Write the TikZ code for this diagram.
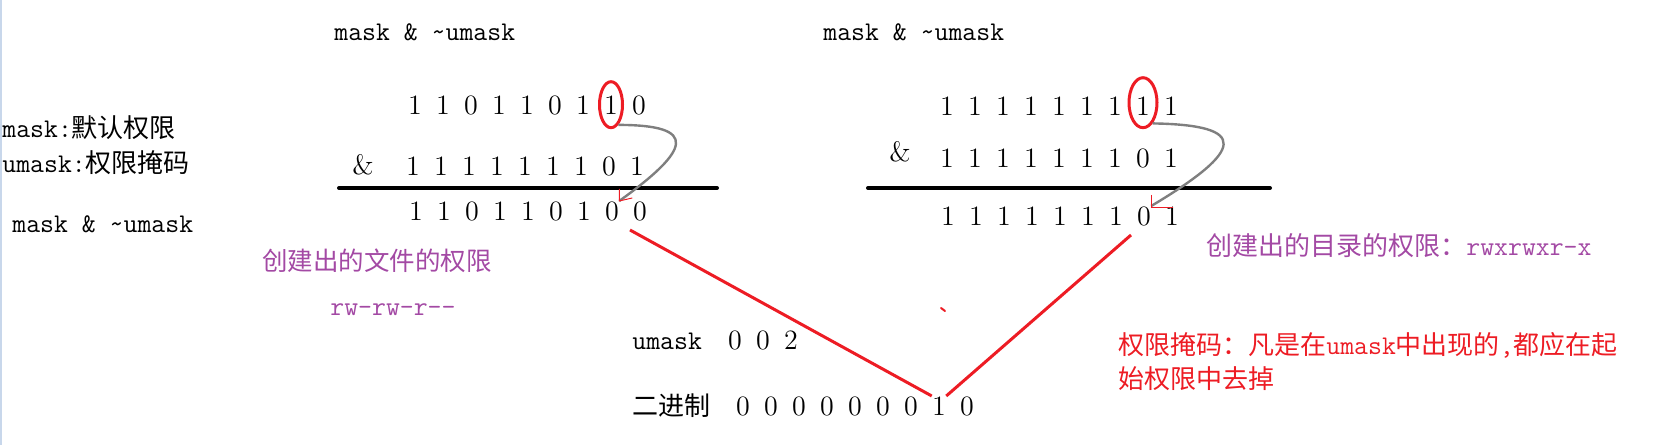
\documentclass[tikz,border=0pt]{standalone}
\usepackage{fontspec}
\usepackage{tikz}
\usetikzlibrary{shapes.geometric}
\newfontfamily\cjk{Noto Sans CJK SC}
\newcommand\zh[1]{{\fontsize{13}{15}\selectfont\cjk #1}}
\newcommand\en[1]{{\fontsize{13.5}{15}\selectfont\ttfamily #1}}
\definecolor{paintred}{RGB}{237,28,36}
\definecolor{paintpurple}{RGB}{163,73,164}
\definecolor{paintgray}{RGB}{127,127,127}
\definecolor{edgeblue}{RGB}{200,215,235}

\begin{document}
\begin{tikzpicture}[x=0.5pt, y=0.5pt,
    digit/.style={anchor=base, inner sep=0pt, font=\fontsize{14}{16}\selectfont},
    mono/.style={anchor=base west, inner sep=0pt, font=\fontsize{13.5}{15}\selectfont\ttfamily},
    cjktext/.style={anchor=base west, inner sep=0pt, font=\fontsize{13}{17}\selectfont\cjk},
    note/.style={cjktext, text=paintpurple},
    warn/.style={cjktext, text=paintred, align=left},
    ring/.style={draw=paintred, line width=1.5pt, ellipse, inner sep=0pt},
    rule/.style={line width=2pt, line cap=round},
    link/.style={draw=paintgray, line width=1.2pt},
    tick/.style={draw=paintred, line width=0.5pt},
    pointer/.style={draw=paintred, line width=1.5pt}]

    \useasboundingbox (0,0) rectangle (1662,-445);
    \fill[edgeblue] (0,0) rectangle (2,-445);

    \node[mono] (defmask) at (2,-137) {mask:\zh{默认权限}};
    \node[mono] (defumask) at (2,-172) {umask:\zh{权限掩码}};
    \node[mono] (formula) at (12,-232) {mask \& \textasciitilde umask};

    \node[mono] (fileop) at (334,-40) {mask \& \textasciitilde umask};
    \foreach \d [count=\i] in {1,1,0,1,1,0,1,1,0}
        \node[digit] (fileA\i) at ({415+28*(\i-1)},-114) {\d};
    \node[digit] (fileand) at (363,-174) {\&};
    \foreach \d [count=\i] in {1,1,1,1,1,1,1,0,1}
        \node[digit] (fileB\i) at ({413+28*(\i-1)},-175) {\d};
    \draw[rule] (339,-188) -- (717,-188);
    \foreach \d [count=\i] in {1,1,0,1,1,0,1,0,0}
        \node[digit] (fileC\i) at ({416+28*(\i-1)},-220) {\d};

    \node[mono] (dirop) at (823,-40) {mask \& \textasciitilde umask};
    \foreach \d [count=\i] in {1,1,1,1,1,1,1,1,1}
        \node[digit] (dirA\i) at ({947+28*(\i-1)},-115) {\d};
    \node[digit] (dirand) at (900,-161) {\&};
    \foreach \d [count=\i] in {1,1,1,1,1,1,1,0,1}
        \node[digit] (dirB\i) at ({947+28*(\i-1)},-167) {\d};
    \draw[rule] (868,-188) -- (1270,-188);
    \foreach \d [count=\i] in {1,1,1,1,1,1,1,0,1}
        \node[digit] (dirC\i) at ({948+28*(\i-1)},-225) {\d};

    \node[ring, minimum width=11.5pt, minimum height=23pt] (ringL) at (fileA8.center) {};
    \node[ring, minimum width=14pt, minimum height=25pt] (ringR) at ([yshift=1.5pt]dirA8.center) {};

    \draw[link] (ringL.-70) .. controls (700,-125) and (690,-150) .. (fileC8.north east);
    \draw[tick] (fileC8.north east) ++(0,12) -- ++(0,-12) -- ++(13,3);
    \draw[link] (ringR.-65) .. controls (1250,-125) and (1245,-150) .. (dirC8.north east);
    \draw[tick] (dirC8.north east) ++(0,11) -- ++(0,-13) -- ++(22,0);

    \node[note, font=\fontsize{12.75}{15}\selectfont\cjk] (fileperm) at (262,-270) {创建出的文件的权限};
    \node[mono, text=paintpurple] (filebits) at (330,-315) {rw-rw-r-{}-};
    \node[note] (dirperm) at (1206,-255) {创建出的目录的权限：\en{rwxrwxr-x}};
    \node[warn] (maskrule) at (1118,-388) {权限掩码：凡是在\en{umask}中出现的\en{,}都应在起\\始权限中去掉};

    \node[mono] (umaskval) at (632,-349) {umask};
    \foreach \d [count=\i] in {0,0,2}
        \node[digit] (um\i) at ({735+28*(\i-1)},-349) {\d};
    \node[cjktext] (binlabel) at (632,-415) {二进制};
    \foreach \d [count=\i] in {0,0,0,0,0,0,0,1,0}
        \node[digit] (bin\i) at ({743+28*(\i-1)},-415) {\d};

    \coordinate (fileend) at (630,-230);
    \coordinate (dirend) at (1131,-235);
    \draw[pointer] (bin8.north west) -- (fileend);
    \draw[pointer] (bin8.north east) -- (dirend);
    \draw[paintred, line width=1pt, line cap=round] (941,-308) -- (945,-311);
\end{tikzpicture}
\end{document}
